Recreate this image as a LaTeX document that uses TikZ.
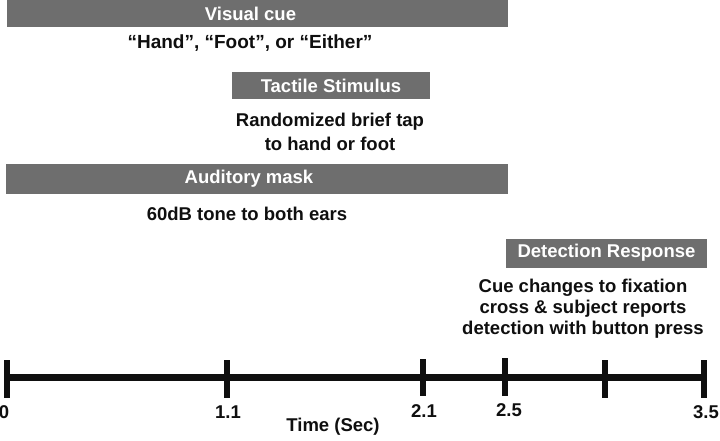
\documentclass[tikz,border=0pt]{standalone}
\usepackage{fontspec}
\setmainfont{Liberation Sans}
\usepackage{tikz}
\usetikzlibrary{calc}

\definecolor{barGray}{RGB}{110,110,110}
\definecolor{inkBlack}{RGB}{15,15,15}
\tikzset{
  bar/.style={fill=barGray, text=white, inner sep=0pt, minimum height=28,
    font=\bfseries\fontsize{18.5}{22}\selectfont},
  note/.style={text=inkBlack, inner sep=0pt, align=center,
    font=\bfseries\fontsize{18.5}{22}\selectfont},
  tick/.style={draw=inkBlack, line width=6pt},
}

\begin{document}
\begin{tikzpicture}[x=1pt,y=-1pt]
\useasboundingbox (0,0) rectangle (720,441);

% event bars
\node[bar, minimum width=501, minimum height=27] (visual) at (257.5,13.5) {Visual cue\hspace*{14pt}};
\node[note, font=\bfseries\fontsize{19}{22}\selectfont] (visualtxt) at (250,43) {“Hand”, “Foot”, or “Either”};

\node[bar, minimum width=198, minimum height=27] (tactile) at (331,85.5) {Tactile Stimulus};
\node[note, font=\bfseries\fontsize{18.5}{23.5}\selectfont] (tactiletxt) at (330,132) {Randomized brief tap\\to hand or foot};

\node[bar, minimum width=502, minimum height=30] (audio) at (257,179) {Auditory mask\hspace*{16pt}};
\node[note] (audiotxt) at (247,214) {60dB tone to both ears};

\node[bar, minimum width=201, minimum height=29] (detect) at (606.5,253) {Detection Response};
\node[note, font=\bfseries\fontsize{18.5}{21}\selectfont] (detecttxt) at (583,309) {Cue changes to fixation\\cross \& subject reports\\detection with button press};

% time axis
\draw[draw=inkBlack, line width=7pt] (7,377) -- (704,377);
\draw[tick] (7,360) -- (7,398);
\draw[tick] (227,360) -- (227,398);
\draw[tick] (423,359) -- (423,396);
\draw[tick] (505,358) -- (505,396);
\draw[tick] (605,360) -- (605,398);
\draw[tick] (704,360) -- (704,398);

\node[note] (l0) at (4,412) {0};
\node[note] (l1) at (228,412) {1.1};
\node[note] (l2) at (424,411) {2.1};
\node[note] (l3) at (509,410) {2.5};
\node[note] (l4) at (706,412) {3.5};
\node[note] (axis) at (333,427) {Time (Sec)};
\end{tikzpicture}
\end{document}
